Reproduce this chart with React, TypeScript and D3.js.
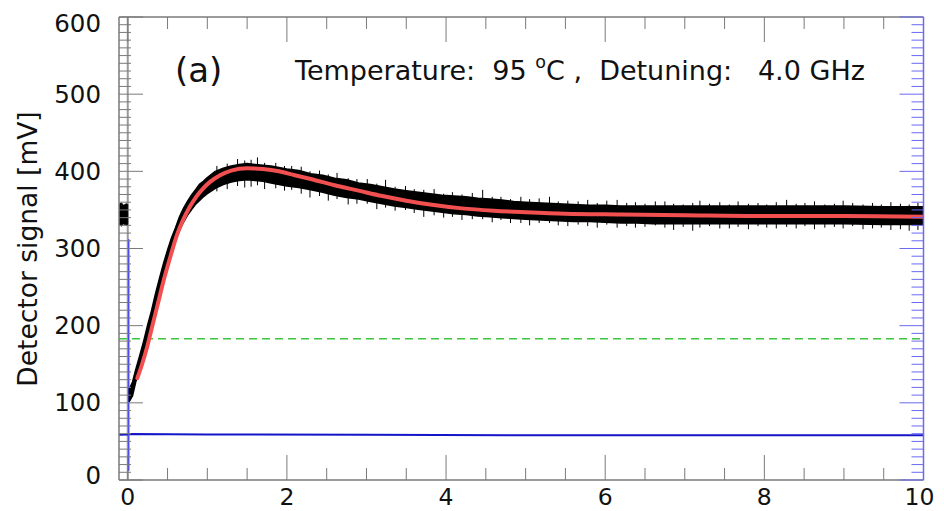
import React from 'react';
import * as d3 from 'd3';

// ---------- data ----------
const xDomain: [number, number] = [-0.11, 10];
const yDomain: [number, number] = [0, 600];

const xMajorTicks = [0, 2, 4, 6, 8, 10];
const xTickLabels = ['0', '2', '4', '6', '8', '10'];
const yMajorTicks = [0, 100, 200, 300, 400, 500, 600];
const yTickLabels = ['0', '100', '200', '300', '400', '500', '600'];
const xMinorStep = 0.5;
const yMinorStep = 10;

// pre-trigger part of the detector trace (black)
const preT = [-0.11, -0.08, -0.05, -0.02, 0.0];
const preHi = [357, 359, 356, 358, 357];
const preLo = [331, 329, 332, 330, 331];

// envelope of the noisy detector trace (black)
const blackT = [0.02, 0.06, 0.1, 0.15, 0.2, 0.25, 0.3, 0.35, 0.4, 0.45, 0.5, 0.55, 0.6, 0.65, 0.7, 0.75, 0.8, 0.85, 0.9, 0.95, 1.0, 1.1, 1.2, 1.3, 1.4, 1.5, 1.6, 1.7, 1.8, 1.9, 2.0, 2.15, 2.3, 2.45, 2.6, 2.75, 2.9, 3.05, 3.2, 3.35, 3.5, 3.65, 3.8, 3.95, 4.1, 4.25, 4.4, 4.55, 4.7, 4.85, 5.0, 5.2, 5.4, 5.6, 5.8, 6.0, 6.2, 6.4, 6.6, 6.8, 7.0, 7.5, 8.0, 8.5, 9.0, 9.5, 10.0];
const blackHi = [118, 127, 143, 161, 180, 201, 220, 242, 262, 281, 298, 314, 327, 341, 352, 361, 369, 376, 383, 387, 392, 400, 404, 407, 409, 410, 409, 408, 407, 405, 403, 401, 397, 395, 391, 389, 385, 383, 380, 377, 375, 373, 371, 369, 368, 367, 365, 364, 363, 361, 360, 359, 358, 357, 356, 356, 355, 355, 355, 355, 355, 355, 355, 355, 355, 354, 354];
const blackLo = [102, 109, 127, 144, 164, 184, 203, 225, 245, 264, 281, 297, 310, 323, 334, 343, 350, 357, 362, 367, 371, 378, 383, 386, 388, 389, 388, 387, 385, 383, 381, 379, 376, 373, 369, 366, 364, 361, 358, 355, 353, 351, 349, 347, 345, 344, 342, 341, 340, 339, 338, 337, 336, 335, 335, 334, 333, 333, 332, 332, 332, 332, 332, 332, 332, 331, 331];

// isolated noise excursions of the black trace
const spikeT = [1.12, 1.25, 1.38, 1.47, 1.55, 1.63, 1.72, 1.86, 1.97, 2.06, 2.18, 2.29, 2.41, 2.52, 2.63, 2.77, 2.88, 3.01, 3.13, 3.24, 3.36, 3.49, 3.6, 3.72, 3.85, 3.97, 4.08, 4.2, 4.33, 4.46, 4.58, 4.69, 4.81, 4.94, 5.05, 5.17, 5.3, 5.41, 5.53, 5.66, 5.78, 5.9, 6.02, 6.15, 6.27, 6.38, 6.5, 6.63, 6.75, 6.86, 6.98, 7.1, 7.19, 7.31, 7.44, 7.56, 7.67, 7.8, 7.92, 8.03, 8.15, 8.28, 8.4, 8.51, 8.63, 8.76, 8.88, 8.99, 9.11, 9.24, 9.36, 9.47, 9.59, 9.71, 9.82, 9.93];
const spikeHi = [407, 410, 416, 414, 415, 418, 411, 411, 407, 407, 406, 400, 401, 396, 398, 391, 390, 390, 384, 389, 380, 381, 377, 376, 377, 371, 373, 370, 372, 376, 367, 367, 364, 367, 364, 365, 367, 361, 362, 361, 363, 359, 362, 363, 359, 360, 358, 361, 361, 358, 357, 359, 362, 358, 360, 357, 361, 358, 359, 357, 360, 363, 358, 359, 361, 357, 358, 362, 359, 357, 359, 357, 360, 358, 357, 359];
const spikeLo = [374, 377, 381, 379, 380, 382, 377, 378, 375, 376, 371, 366, 368, 362, 364, 357, 358, 358, 351, 353, 349, 350, 346, 341, 343, 340, 341, 337, 338, 338, 334, 337, 333, 333, 330, 333, 333, 330, 329, 331, 329, 327, 331, 327, 329, 327, 328, 330, 327, 324, 328, 323, 327, 329, 326, 326, 328, 325, 329, 327, 326, 328, 326, 329, 325, 327, 328, 326, 329, 325, 326, 327, 324, 325, 323, 324];

// fitted curve (red)
const fitT = [0.12, 0.18, 0.24, 0.3, 0.38, 0.46, 0.54, 0.62, 0.7, 0.78, 0.86, 0.94, 1.03, 1.16, 1.3, 1.5, 1.7, 1.9, 2.1, 2.3, 2.6, 2.9, 3.2, 3.5, 3.8, 4.2, 4.6, 5.0, 5.5, 6.2, 7.0, 8.0, 9.0, 10.0];
const fitV = [132, 150, 171, 196, 229, 262, 291, 318, 338, 354, 367, 377, 386, 395, 401, 404, 403, 400, 395, 390, 382, 375, 368, 362, 357, 352, 349, 347, 345, 344, 343, 342, 342, 341];

// reference channel (blue)
const blueT = [-0.11, 0.0, 0.05, 1, 3, 5, 7, 10];
const blueV = [58.5, 59, 59.5, 59, 58.5, 58, 58, 58];
const blueSpikeT = 0.012;
const blueSpikeRange = [12, 312];

// trigger marker (gray) and threshold (green dashed)
const triggerT = 0.0;
const thresholdV = 183;

// ---------- layout ----------
const W = 944;
const H = 511;
const L = 119;
const R = 923.5;
const T = 17;
const B = 480;

const FONT = 'DejaVu Sans, Verdana, sans-serif';

export default function App() {
  const x = d3.scaleLinear().domain(xDomain).range([L, R]);
  const y = d3.scaleLinear().domain(yDomain).range([B, T]);

  const xMinor = d3.range(0, 10 + 1e-9, xMinorStep).filter(v => !xMajorTicks.some(m => Math.abs(m - v) < 1e-9));
  const yMinor = d3.range(0, 600 + 1e-9, yMinorStep).filter(v => !yMajorTicks.some(m => Math.abs(m - v) < 1e-9));

  const band = d3.area<number>()
    .x(i => x(blackT[i]))
    .y0(i => y(blackLo[i]))
    .y1(i => y(blackHi[i]));
  const preBand = d3.area<number>()
    .x(i => x(preT[i]))
    .y0(i => y(preLo[i]))
    .y1(i => y(preHi[i]));
  const fitLine = d3.line<number>()
    .x(i => x(fitT[i]))
    .y(i => y(fitV[i]))
    .curve(d3.curveMonotoneX);
  const blueLine = d3.line<number>()
    .x(i => x(blueT[i]))
    .y(i => y(blueV[i]));

  const gray = '#7a7a7a';
  const axisBlue = '#6a6af2';

  return (
    <svg width={W} height={H} style={{ position: 'absolute', left: 0, top: 0, background: '#fff' }}>
      <rect x={0} y={0} width={W} height={H} fill="#fff" />
      <defs>
        <clipPath id="plot">
          <rect x={L} y={T} width={R - L} height={B - T} />
        </clipPath>
      </defs>

      {/* data */}
      <g clipPath="url(#plot)">
        <line x1={x(triggerT)} x2={x(triggerT)} y1={y(0)} y2={y(600)} stroke="#9a9a9a" strokeWidth={2} />
        <line x1={L} x2={R} y1={y(thresholdV)} y2={y(thresholdV)} stroke="#3ec43e" strokeWidth={1.6} strokeDasharray="8,5" />
        <path d={blueLine(d3.range(blueT.length)) || ''} fill="none" stroke="#1414c8" strokeWidth={2} />
        <line x1={x(blueSpikeT)} x2={x(blueSpikeT)} y1={y(blueSpikeRange[0])} y2={y(blueSpikeRange[1])} stroke="#4a4af0" strokeWidth={1.5} />
        <path d={preBand(d3.range(preT.length)) || ''} fill="#000" stroke="#000" strokeWidth={1} />
        <path d={band(d3.range(blackT.length)) || ''} fill="#000" stroke="#000" strokeWidth={1.5} strokeLinejoin="round" />
        {spikeT.map((t, i) => (
          <line key={i} x1={x(t)} x2={x(t)} y1={y(spikeLo[i])} y2={y(spikeHi[i])} stroke="#000" strokeWidth={1} />
        ))}
        <path d={fitLine(d3.range(fitT.length)) || ''} fill="none" stroke="#f25050" strokeWidth={4} strokeLinecap="round" />
      </g>

      {/* frame */}
      <line x1={L} x2={R} y1={B} y2={B} stroke={gray} strokeWidth={1.5} />
      <line x1={L} x2={R} y1={T} y2={T} stroke={gray} strokeWidth={1.5} />
      <line x1={L} x2={L} y1={T} y2={B} stroke={gray} strokeWidth={1.5} />
      <line x1={R} x2={R} y1={T} y2={B} stroke={axisBlue} strokeWidth={1.5} />

      {/* x ticks bottom and top */}
      {xMajorTicks.map(v => (
        <g key={'xM' + v}>
          <line x1={x(v)} x2={x(v)} y1={B} y2={B - 25} stroke={gray} strokeWidth={1} />
          <line x1={x(v)} x2={x(v)} y1={T} y2={T + 25} stroke={gray} strokeWidth={1} />
        </g>
      ))}
      {xMinor.map(v => (
        <g key={'xm' + v}>
          <line x1={x(v)} x2={x(v)} y1={B} y2={B - 12} stroke={gray} strokeWidth={1} />
          <line x1={x(v)} x2={x(v)} y1={T} y2={T + 12} stroke={gray} strokeWidth={1} />
        </g>
      ))}

      {/* y ticks left (gray) and right (blue) */}
      {yMajorTicks.map(v => (
        <g key={'yM' + v}>
          <line x1={L} x2={L + 24} y1={y(v)} y2={y(v)} stroke={gray} strokeWidth={1} />
          <line x1={R} x2={R - 24} y1={y(v)} y2={y(v)} stroke={axisBlue} strokeWidth={1} />
        </g>
      ))}
      {yMinor.map(v => (
        <g key={'ym' + v}>
          <line x1={L} x2={L + 12} y1={y(v)} y2={y(v)} stroke={gray} strokeWidth={1} />
          <line x1={R} x2={R - 12} y1={y(v)} y2={y(v)} stroke={axisBlue} strokeWidth={1} />
        </g>
      ))}

      {/* tick labels */}
      {yMajorTicks.map((v, i) => (
        <text key={'yl' + v} x={101} y={Math.max(y(v), 23) - (v === 0 ? 5 : 0)} textAnchor="end" dominantBaseline="central"
          fontFamily={FONT} fontSize={24.5} fill="#111">{yTickLabels[i]}</text>
      ))}
      {xMajorTicks.map((v, i) => (
        <text key={'xl' + v} x={x(v) - (v === 10 ? 4 : 0)} y={505} textAnchor="middle"
          fontFamily={FONT} fontSize={23.5} fill="#111">{xTickLabels[i]}</text>
      ))}

      {/* axis title */}
      <text transform={`translate(27,249) rotate(-90)`} textAnchor="middle" dominantBaseline="central"
        fontFamily={FONT} fontSize={26.5} fill="#111">Detector signal [mV]</text>

      {/* annotations */}
      <text x={175} y={82} fontFamily={FONT} fontSize={34} fill="#111">(a)</text>
      <text x={295} y={80} fontFamily={FONT} fontSize={27} fill="#111" style={{ whiteSpace: 'pre' }}>
        {'Temperature:  95 '}
        <tspan fontSize={17.5} dy={-12}>o</tspan>
        <tspan dy={12}>{'C ,  Detuning:   4.0 GHz'}</tspan>
      </text>
    </svg>
  );
}
